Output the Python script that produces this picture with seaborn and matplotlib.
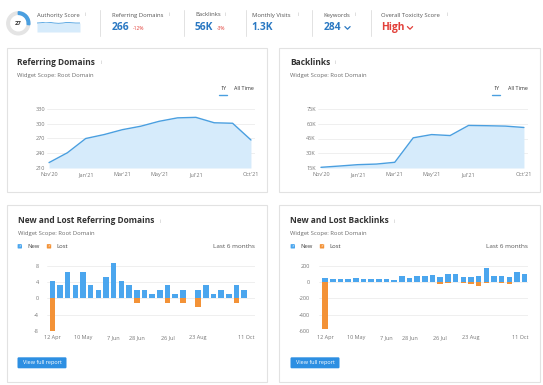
import matplotlib

matplotlib.use("Agg")
import matplotlib.pyplot as plt
from matplotlib.patches import FancyBboxPatch, Rectangle, Wedge
import seaborn as sns

# ---- data ----
AUTHORITY_SCORE = 27
AUTHORITY_TREND = [3.0, 3.1, 3.3, 3.2, 3.0, 2.9, 3.0, 3.2, 3.1, 3.0, 3.0]

SUMMARY_LABELS = ["Referring Domains", "Backlinks", "Monthly Visits", "Keywords", "Overall Toxicity Score"]
SUMMARY_VALUES = ["266", "56K", "1.3K", "284", "High"]
SUMMARY_DELTAS = ["-12%", "-3%", "", "", ""]

MONTHS = ["Nov'20", "Dec'20", "Jan'21", "Feb'21", "Mar'21", "Apr'21",
          "May'21", "Jun'21", "Jul'21", "Aug'21", "Sep'21", "Oct'21"]
MONTH_TICKS = ["Nov'20", "Jan'21", "Mar'21", "May'21", "Jul'21", "Oct'21"]
REF_DOMAINS = [221, 241, 270, 278, 288, 295, 305, 312, 313, 302, 301, 267]
BACKLINKS_K = [15.7, 17.0, 18.4, 19.0, 20.8, 45.7, 49.0, 48.0, 58.3, 58.0, 57.6, 56.2]

WEEK_TICKS = ["12 Apr", "10 May", "7 Jun", "28 Jun", "26 Jul", "23 Aug", "11 Oct"]
RD_NEW = [4.2, 3.2, 6.4, 3.2, 6.4, 3.2, 2.1, 5.3, 8.6, 4.2, 3.2, 2.1, 2.1,
          1.1, 2.1, 3.2, 1.1, 2.1, 0, 2.1, 3.2, 1.1, 2.1, 1.1, 3.2, 2.1]
RD_LOST = [-8.1, 0, 0, 0, 0, 0, 0, 0, 0, 0, 0, -1.1, 0,
           0, 0, -1.1, 0, -1.1, 0, -2.1, 0, 0, 0, 0, -1.1, 0]
BL_NEW = [46, 37, 37, 37, 45, 33, 33, 33, 41, 24, 73, 53, 73, 73,
          90, 57, 94, 94, 57, 57, 73, 175, 69, 69, 57, 122, 102]
BL_LOST = [-580, 0, 0, 0, 0, 0, 0, 0, 0, 0, 0, 0, 0, 0,
           0, -25, -12, 0, -15, -20, -45, -8, 0, -15, -30, 0, 0]

LINE_BLUE = "#4a9fe0"
FILL_BLUE = "#d6ebfb"
BAR_BLUE = "#4ba6ee"
BAR_ORANGE = "#f39237"
VALUE_BLUE = "#2a78c2"
RED = "#e2403a"
GRAY = "#6b6b6b"
DARK = "#333333"
BORDER = "#e2e2e2"
GRID = "#ededed"

W, H = 543, 385
sns.set_theme(style="white")
plt.rcParams["font.family"] = ["Open Sans", "DejaVu Sans"]

fig = plt.figure(figsize=(W / 100, H / 100), dpi=100)
bg = fig.add_axes([0, 0, 1, 1])
bg.set_xlim(0, W)
bg.set_ylim(H, 0)
bg.axis("off")


def add_ax(x0, y0, x1, y1):
    a = fig.add_axes([x0 / W, 1 - y1 / H, (x1 - x0) / W, (y1 - y0) / H])
    a.patch.set_alpha(0)
    return a


def txt(x, y, s, size, color=DARK, weight="normal", ha="left"):
    bg.text(x, y, s, fontsize=size, color=color, fontweight=weight, ha=ha, va="center")


def info(x, y):
    txt(x, y, "i", 3.6, color="#b5b5b5")


# ---- top summary strip ----
bg.add_patch(Wedge((18.3, 23.3), 11.5, 0, 360, width=2.6, color="#e4e4e4"))
bg.add_patch(Wedge((18.3, 23.3), 11.5, -90, -90 + 360 * AUTHORITY_SCORE / 100, width=2.6, color=LINE_BLUE))
txt(18.3, 23.8, str(AUTHORITY_SCORE), 4.3, weight="bold", ha="center")
txt(36.7, 15, "Authority Score", 4.2, color="#555555")
info(85, 15)

spark = add_ax(37, 21.5, 80, 32)
sns.lineplot(x=list(range(len(AUTHORITY_TREND))), y=AUTHORITY_TREND, ax=spark, color=LINE_BLUE, lw=0.6)
spark.fill_between(range(len(AUTHORITY_TREND)), AUTHORITY_TREND, 0, color=FILL_BLUE, lw=0)
spark.set_xlim(0, len(AUTHORITY_TREND) - 1)
spark.set_ylim(0, 3.5)
spark.axis("off")

label_x = [111.7, 195, 251.7, 323.3, 381]
info_x = [169, 225, 297.5, 355, 446.5]
for i, (lab, val, dlt) in enumerate(zip(SUMMARY_LABELS, SUMMARY_VALUES, SUMMARY_DELTAS)):
    color = RED if val == "High" else VALUE_BLUE
    txt(label_x[i], 15, lab, 4.2, color="#555555")
    info(info_x[i], 15)
    txt(label_x[i], 27.6, val, 7.4, color=color, weight="bold")
    if dlt:
        txt(label_x[i] + 21.5, 28.8, dlt, 3.5, color=RED)
for cx, col in [(347.5, VALUE_BLUE), (410, RED)]:
    bg.plot([cx - 2.6, cx, cx + 2.6], [26.6, 29.2, 26.6], color=col, lw=0.9, solid_capstyle="round")
for sx in [100, 184, 246, 311.5, 371]:
    bg.plot([sx, sx], [10, 36], color=BORDER, lw=0.7)

# ---- panel frames ----
for (x0, y0, x1, y1) in [(7, 47.7, 267.3, 191.7), (279.3, 47.7, 539.5, 191.7),
                         (7, 205, 267.3, 381.5), (279.3, 205, 539.5, 381.5)]:
    bg.add_patch(Rectangle((x0, y0), x1 - x0, y1 - y0, fill=False, ec=BORDER, lw=0.8))


def style_axis(a):
    sns.despine(ax=a, left=True, bottom=True)
    a.grid(axis="y", color=GRID, lw=0.6)
    a.grid(axis="x", visible=False)
    a.set_axisbelow(True)
    a.tick_params(length=0, labelsize=4, labelcolor="#777777", pad=3)
    a.set_xlabel("")
    a.set_ylabel("")


# ---- line panels ----
line_panels = [
    (17.3, 100.7, "Referring Domains", REF_DOMAINS, (47, 109, 255, 168), (-0.11, 11.22),
     (210, 330), [210, 240, 270, 300, 330], lambda v: f"{v}"),
    (290.3, 334.7, "Backlinks", BACKLINKS_K, (318, 109, 528, 168), (-0.16, 11.22),
     (15, 75), [15, 30, 45, 60, 75], lambda v: f"{v}K"),
]
for tx, ix, title, vals, box, xl, yl, yt, fmt in line_panels:
    txt(tx, 62.3, title, 6, weight="bold")
    info(ix, 62.8)
    txt(tx, 76, "Widget Scope: Root Domain", 4.2, color=GRAY)
    right = box[2]
    txt(right - 35, 88.7, "1Y", 3.9)
    txt(right - 20.5, 88.7, "All Time", 3.9)
    bg.plot([right - 35.7, right - 28.3], [95, 95], color=LINE_BLUE, lw=1.0)

    a = add_ax(*box)
    xs = list(range(len(MONTHS)))
    a.fill_between(xs, vals, yl[0], color=FILL_BLUE, lw=0)
    sns.lineplot(x=xs, y=vals, ax=a, color=LINE_BLUE, lw=1.0)
    a.set_xlim(*xl)
    a.set_ylim(*yl)
    a.set_yticks(yt)
    a.set_yticklabels([fmt(v) for v in yt])
    a.set_xticks([MONTHS.index(m) for m in MONTH_TICKS])
    a.set_xticklabels(MONTH_TICKS)
    style_axis(a)
    a.tick_params(axis="y", pad=1.5)

# ---- new / lost bar panels ----
bar_panels = [
    (17.5, 159.3, "New and Lost Referring Domains", RD_NEW, RD_LOST, (47, 262.4, 255, 331),
     (-0.69, 26.4), (-8, 8.8), [-8, -4, 0, 4, 8]),
    (290.5, 393.7, "New and Lost Backlinks", BL_NEW, BL_LOST, (318.5, 262.4, 528, 331),
     (-0.86, 26.43), (-600, 240), [-600, -400, -200, 0, 200]),
]
for tx, ix, title, new, lost, box, xl, yl, yt in bar_panels:
    txt(tx, 220.8, title, 6, weight="bold")
    info(ix, 221.3)
    txt(tx, 233.3, "Widget Scope: Root Domain", 4.2, color=GRAY)
    for cx, col, lab in [(tx + 2.3, BAR_BLUE, "New"), (tx + 31.5, BAR_ORANGE, "Lost")]:
        bg.add_patch(FancyBboxPatch((cx - 2.2, 244.1), 4.4, 4.4, boxstyle="round,pad=0,rounding_size=0.6",
                                    fc=col, ec="none"))
        bg.text(cx, 246.4, "\u2713", fontsize=3, color="white", ha="center", va="center",
                family="DejaVu Sans", fontweight="bold")
        txt(cx + 7.5, 246.4, lab, 4.2, color="#444444")
    txt(box[2], 246.4, "Last 6 months", 4.6, color="#555555", ha="right")

    bg.add_patch(FancyBboxPatch((tx, 357.3), 49, 11, boxstyle="round,pad=0,rounding_size=1.2",
                                fc="#2d8fe2", ec="none"))
    txt(tx + 24.5, 362.9, "View full report", 4, color="white", ha="center")

    a = add_ax(*box)
    xs = list(range(len(new)))
    sns.barplot(x=xs, y=new, ax=a, color=BAR_BLUE, width=0.72, saturation=1, linewidth=0)
    sns.barplot(x=xs, y=lost, ax=a, color=BAR_ORANGE, width=0.72, saturation=1, linewidth=0)
    a.set_xlim(*xl)
    a.set_ylim(*yl)
    a.set_yticks(yt)
    a.set_yticklabels([str(v) for v in yt])
    a.set_xticks([0, 4, 8, 11, 15, 19, xl[1]])
    a.set_xticklabels(WEEK_TICKS)
    a.get_xticklabels()[-1].set_horizontalalignment("right")
    style_axis(a)
    a.tick_params(axis="y", pad=6)

fig.savefig("out.png", dpi=100)
